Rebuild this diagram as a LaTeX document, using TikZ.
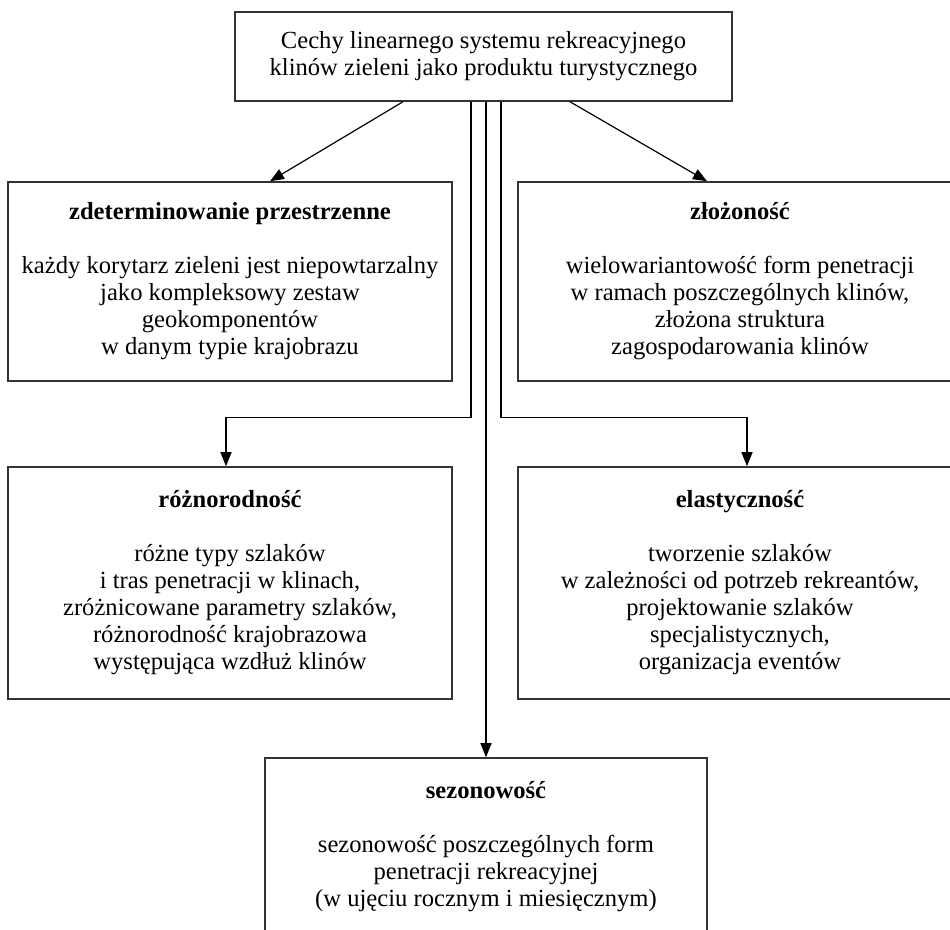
\documentclass[tikz,border=0pt]{standalone}
\usepackage{fontspec}
\setmainfont{Liberation Serif}
\usetikzlibrary{arrows.meta}

\begin{document}
\begin{tikzpicture}
    [
    x=0.5pt, y=-0.5pt
    , box/.style = {draw=black!80, line width=0.75pt, align=center, inner sep=0pt, font=\fontsize{12.3}{13.5}\selectfont}
    , wide/.style = {box, minimum width=222pt}
    , arr/.style = {-{Triangle[length=7pt,width=5.5pt]}, line width=0.6pt}
    ]
\useasboundingbox (0,0) rectangle (950,930);
\clip (0,0) rectangle (950,930);

\node[box, minimum width=248.5pt, minimum height=44.5pt] (cechy) at (483.5,56.5)
    {Cechy linearnego systemu rekreacyjnego\\ klinów zieleni jako produktu turystycznego};

\node[wide, minimum height=99.5pt] (zdet) at (230,281.5)
    {\textbf{zdeterminowanie przestrzenne}\\[13.5pt]
     każdy korytarz zieleni jest niepowtarzalny\\ jako kompleksowy zestaw\\ geokomponentów\\ w danym typie krajobrazu};
\node[wide, minimum height=99.5pt] (zloz) at (740,281.5)
    {\textbf{złożoność}\\[13.5pt]
     wielowariantowość form penetracji\\ w ramach poszczególnych klinów,\\ złożona struktura\\ zagospodarowania klinów};

\node[wide, minimum height=116pt] (rozn) at (230,583)
    {\textbf{różnorodność}\\[13.5pt]
     różne typy szlaków\\ i tras penetracji w klinach,\\ zróżnicowane parametry szlaków,\\ różnorodność krajobrazowa\\ występująca wzdłuż klinów};
\node[wide, minimum height=116pt] (elast) at (740,583)
    {\textbf{elastyczność}\\[13.5pt]
     tworzenie szlaków\\ w zależności od potrzeb rekreantów,\\ projektowanie szlaków\\ specjalistycznych,\\ organizacja eventów};

\node[box, minimum width=221pt, minimum height=88.5pt] (sezon) at (486,846.5)
    {\textbf{sezonowość}\\[13.5pt]
     sezonowość poszczególnych form\\ penetracji rekreacyjnej\\ (w ujęciu rocznym i miesięcznym)};

% strzalki
\draw[arr] ([xshift=-40.25pt]cechy.south) -- ([xshift=20pt]zdet.north);
\draw[arr] ([xshift=43.25pt]cechy.south) -- ([xshift=-16.5pt]zloz.north);
\draw[arr] ([xshift=-6.25pt]cechy.south) -- ++(0,316) -| ([xshift=-2pt]rozn.north);
\draw[arr] ([xshift=8.75pt]cechy.south) -- ++(0,316) -| ([xshift=3.5pt]elast.north);
\draw[arr] ([xshift=1.25pt]cechy.south) -- (sezon.north);
\end{tikzpicture}
\end{document}
